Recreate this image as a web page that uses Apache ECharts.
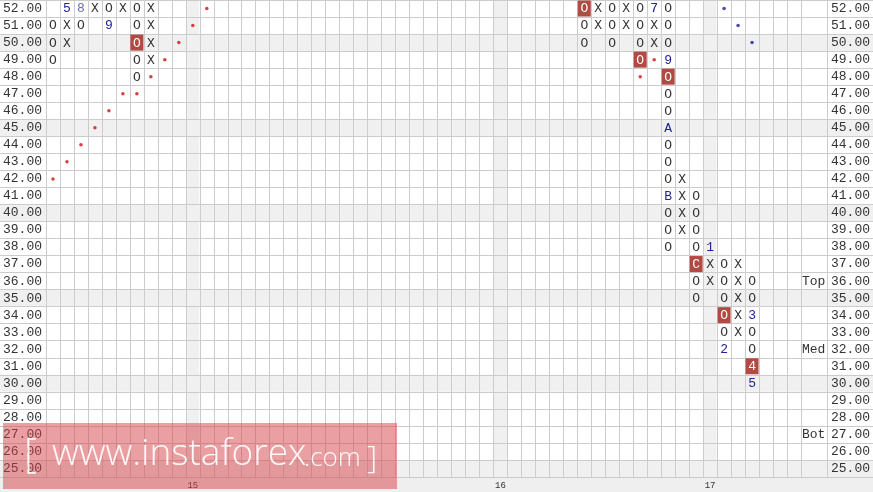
<!DOCTYPE html>
<html>
<head>
<meta charset="utf-8">
<style>
html,body{margin:0;padding:0;background:#fff;}
#chart{width:873px;height:492px;}
</style>
<script src="https://cdn.jsdelivr.net/npm/echarts@6/dist/echarts.min.js"></script>
</head>
<body>
<div id="chart"></div>
<script>
// ---- axis ticks ----
const priceTicks = ['25.00','26.00','27.00','28.00','29.00','30.00','31.00','32.00','33.00','34.00',
  '35.00','36.00','37.00','38.00','39.00','40.00','41.00','42.00','43.00','44.00',
  '45.00','46.00','47.00','48.00','49.00','50.00','51.00','52.00'];
const columnCount = 54;
const dateColumns = [10, 32, 47];
const dateTicks = ['15', '16', '17'];
const levelNames = ['Top', 'Med', 'Bot'];
const levelPrices = [36, 32, 27];

// ---- point & figure cells: [column, price] ----
const xCells = [[1,51],[1,50],[3,52],[5,52],[7,52],[7,51],[7,50],[7,49],
  [39,52],[39,51],[41,52],[41,51],[43,51],[43,50],
  [45,42],[45,41],[45,40],[45,39],[47,37],[47,36],
  [49,37],[49,36],[49,35],[49,34],[49,33]];
const oCells = [[0,51],[0,50],[0,49],[2,51],[4,52],[6,52],[6,51],[6,49],[6,48],
  [38,51],[38,50],[40,52],[40,51],[40,50],[42,52],[42,51],[42,50],
  [44,52],[44,51],[44,50],[44,47],[44,46],[44,44],[44,43],[44,42],[44,40],[44,39],[44,38],
  [46,41],[46,40],[46,39],[46,38],[46,36],[46,35],
  [48,37],[48,36],[48,35],[48,33],
  [50,36],[50,35],[50,33],[50,32]];
const monthCells = [[1,52,'5'],[4,51,'9'],[43,52,'7'],[44,49,'9'],[44,45,'A'],[44,41,'B'],
  [47,38,'1'],[48,32,'2'],[50,34,'3'],[50,30,'5']];
const faintMonthCells = [[2,52,'8']];
const highlightCells = [[6,50,'O'],[38,52,'O'],[42,49,'O'],[44,48,'O'],[46,37,'C'],[48,34,'O'],[50,31,'4']];
const supportDots = [[0,42],[1,43],[2,44],[3,45],[4,46],[5,47],[6,47],[7,48],[8,49],[9,50],[10,51],[11,52],[42,48],[43,49]];
const resistanceDots = [[48,52],[49,51],[50,50]];

// ---- helpers ----
const MONO = '"Liberation Mono", "DejaVu Sans Mono", monospace';
const SANS = '"Open Sans", Lato, sans-serif';
const rowOf = p => priceTicks.indexOf(Number(p).toFixed(2));
const columnIds = Array.from({length: columnCount}, (_, i) => String(i));
const dateMap = {};
dateColumns.forEach((c, i) => { dateMap[c] = dateTicks[i]; });
const levelMap = {};
levelPrices.forEach((p, i) => { levelMap[Number(p).toFixed(2)] = levelNames[i]; });

function cellSeries(name, cells, text, color, box, z) {
  return {
    type: 'custom', name: name, xAxisIndex: 0, yAxisIndex: 0, z: z,
    encode: {x: 0, y: 1},
    data: cells.map(c => [c[0], rowOf(c[1])]),
    renderItem: function (params, api) {
      const pt = api.coord([api.value(0), api.value(1)]);
      const sz = api.size([1, 1]);
      const label = text != null ? text : cells[params.dataIndex][2];
      const children = [];
      if (box) {
        children.push({type: 'rect', shape: {x: pt[0] - sz[0] / 2 + 0.5, y: pt[1] - sz[1] / 2 + 0.5, width: sz[0] - 1, height: sz[1] - 1},
          style: {fill: box}});
      }
      children.push({type: 'text', style: {text: label, x: pt[0], y: pt[1] + 0.5, align: 'center', verticalAlign: 'middle',
        fill: color, fontSize: 13, fontFamily: MONO}});
      return {type: 'group', children: children};
    }
  };
}

const chart = echarts.init(document.getElementById('chart'), null, {renderer: 'canvas'});
const LINE = '#cccccc';
const SHADE = '#f0f0f0';
const CLEAR = 'rgba(0,0,0,0)';
const WM = 'rgba(255,255,255,0.92)';

chart.setOption({
  animation: false,
  backgroundColor: '#ffffff',
  textStyle: {fontFamily: MONO},
  grid: [
    {left: 46, right: 71, top: 0, bottom: 15, containLabel: false},
    {left: 0, right: 0, top: 0, bottom: 15, containLabel: false}
  ],
  xAxis: [
    {gridIndex: 0, type: 'category', data: columnIds, boundaryGap: true,
      axisLine: {show: false}, axisTick: {show: false},
      splitLine: {show: true, interval: 0, lineStyle: {color: LINE, width: 1}},
      axisLabel: {interval: 0, margin: 4, fontSize: 9, color: '#333', fontFamily: MONO,
        formatter: (v, i) => dateMap[i] || ''}},
    {gridIndex: 1, type: 'value', show: false, min: 0, max: 1}
  ],
  yAxis: [
    {gridIndex: 0, type: 'category', data: priceTicks, position: 'left', boundaryGap: true,
      axisLine: {show: true, lineStyle: {color: LINE}}, axisTick: {show: false}, splitLine: {show: false},
      axisLabel: {interval: 0, align: 'left', margin: 43, fontSize: 13, color: '#333', fontFamily: MONO}},
    {gridIndex: 0, type: 'category', data: priceTicks, position: 'right', offset: 26, boundaryGap: true,
      axisLine: {show: true, lineStyle: {color: LINE}}, axisTick: {show: false}, splitLine: {show: false},
      axisLabel: {interval: 0, align: 'left', margin: 4, fontSize: 13, color: '#333', fontFamily: MONO}},
    {gridIndex: 0, type: 'category', data: priceTicks, position: 'right', offset: 0, boundaryGap: true,
      axisLine: {show: true, lineStyle: {color: LINE}}, axisTick: {show: false}, splitLine: {show: false},
      axisLabel: {interval: 0, align: 'left', margin: 1, fontSize: 13, color: '#333', fontFamily: MONO,
        formatter: v => levelMap[v] || ''}},
    {gridIndex: 1, type: 'category', data: priceTicks, boundaryGap: true,
      axisLine: {show: false}, axisTick: {show: false}, axisLabel: {show: false},
      splitLine: {show: true, interval: 0, lineStyle: {color: LINE, width: 1}},
      splitArea: {show: true, interval: 0, areaStyle: {color: [SHADE, CLEAR, CLEAR, CLEAR, CLEAR]}}}
  ],
  graphic: [
    {type: 'rect', left: 0, bottom: 0, z: -10, silent: true, shape: {width: 873, height: 15}, style: {fill: '#efefef'}},
    {type: 'rect', left: 3, top: 423, z: 100, silent: true, shape: {width: 394, height: 66}, style: {fill: 'rgba(213,65,72,0.5)'}},
    {type: 'text', left: 24, top: 436, z: 101, silent: true, style: {text: '[', fontSize: 40, fontWeight: 300, fontFamily: SANS, fill: WM}},
    {type: 'text', left: 52, top: 436, z: 101, silent: true, style: {text: 'www.instaforex', fontSize: 37, fontWeight: 300, fontFamily: SANS, fill: WM}},
    {type: 'text', left: 304, top: 446, z: 101, silent: true, style: {text: '.com', fontSize: 26, fontWeight: 300, fontFamily: SANS, fill: WM}},
    {type: 'text', left: 367, top: 443, z: 101, silent: true, style: {text: ']', fontSize: 32, fontWeight: 300, fontFamily: SANS, fill: WM}}
  ],
  series: [
    {
      type: 'custom', name: 'dateColumns', xAxisIndex: 0, yAxisIndex: 0, z: -1, silent: true,
      encode: {x: 0, y: 1},
      data: dateColumns.map(c => [c, 0]),
      renderItem: function (params, api) {
        const pt = api.coord([api.value(0), 0]);
        const w = api.size([1, 0])[0];
        const cs = params.coordSys;
        return {type: 'rect', shape: {x: pt[0] - w / 2 + 0.5, y: cs.y, width: w - 1, height: cs.height}, style: {fill: SHADE}};
      }
    },
    {type: 'scatter', name: 'support', xAxisIndex: 0, yAxisIndex: 0, z: 3, symbol: 'circle', symbolSize: 3.5,
      itemStyle: {color: '#cc1010'}, data: supportDots.map(d => [d[0], rowOf(d[1])])},
    {type: 'scatter', name: 'resistance', xAxisIndex: 0, yAxisIndex: 0, z: 3, symbol: 'circle', symbolSize: 3.5,
      itemStyle: {color: '#1a1a9e'}, data: resistanceDots.map(d => [d[0], rowOf(d[1])])},
    cellSeries('X', xCells, 'X', '#333333', null, 4),
    cellSeries('O', oCells, 'O', '#333333', null, 4),
    cellSeries('month', monthCells, null, '#22229a', null, 4),
    cellSeries('monthFaint', faintMonthCells, null, '#6a6ac4', null, 4),
    cellSeries('reversal', highlightCells, null, '#ffffff', '#b24a44', 4)
  ]
});
</script>
</body>
</html>
